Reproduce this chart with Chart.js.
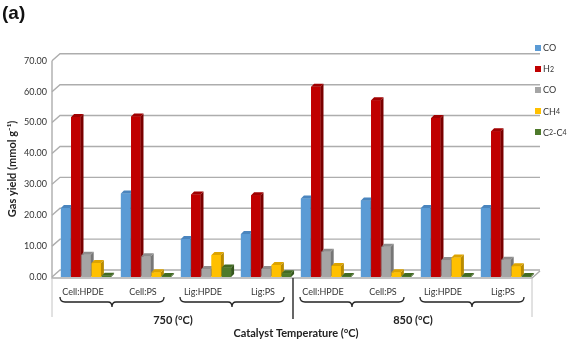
<!DOCTYPE html>
<html>
<head>
<meta charset="utf-8">
<script src="https://cdn.jsdelivr.net/npm/chart.js@4.4.0/dist/chart.umd.min.js"></script>
<style>
  html, body { margin: 0; padding: 0; background: #fff; }
  #wrap { position: relative; width: 567px; height: 341px; }
  #legend { position: absolute; left: 535px; top: 37px; font: 9px Lato, sans-serif; color: #333; }
  #legend .item { height: 21.2px; display: flex; align-items: center; white-space: nowrap; }
  #legend .box { display: inline-block; width: 6px; height: 6px; margin-right: 2px; }
  #legend sub { font-size: 7px; line-height: 0; vertical-align: -3px; }
</style>
</head>
<body>
<div id="wrap">
  <canvas id="gasChart" width="567" height="341"></canvas>
  <div id="legend"></div>
</div>
<script>
// data
const categories = ['Cell:HPDE', 'Cell:PS', 'Lig:HPDE', 'Lig:PS', 'Cell:HPDE', 'Cell:PS', 'Lig:HPDE', 'Lig:PS'];
const groupLabels = ['750 (°C)', '850 (°C)'];
const seriesNames = ['CO', 'H₂', 'CO', 'CH₄', 'C₂-C₄'];
const legendHtml = ['CO', 'H<sub>2</sub>', 'CO', 'CH<sub>4</sub>', 'C<sub>2</sub>-C<sub>4</sub>'];
const coValues   = [22.3, 27.0, 12.3, 13.9, 25.4, 24.8, 22.3, 22.3];
const h2Values   = [51.8, 52.0, 26.7, 26.5, 61.6, 57.2, 51.5, 47.2];
const co2Values  = [7.2, 6.7, 2.6, 2.6, 8.2, 9.8, 5.5, 5.6];
const ch4Values  = [4.5, 1.5, 7.1, 3.9, 3.6, 1.5, 6.3, 3.5];
const c2c4Values = [0.4, 0.3, 3.1, 1.2, 0.3, 0.3, 0.3, 0.3];
const yTicks = [0, 10, 20, 30, 40, 50, 60, 70];

const frontColors = ['#5B9BD5', '#C00000', '#A5A5A5', '#FFC000', '#4E7A2B'];
const sideColors  = ['#3E6E9C', '#7A0000', '#767676', '#B98B00', '#34561C'];
const topColors   = ['#4A85BE', '#A00000', '#8E8E8E', '#DDA400', '#426A24'];
const allValues = [coValues, h2Values, co2Values, ch4Values, c2c4Values];

const FONT = 'Lato, "Liberation Sans", sans-serif';

// fake 3D walls (back grid + floor)
const wallPlugin = {
  id: 'wall',
  beforeDatasetsDraw(chart) {
    const { ctx, chartArea: a, scales: { y } } = chart;
    ctx.save();
    ctx.strokeStyle = '#adadad';
    ctx.lineWidth = 1.4;
    yTicks.forEach(v => {
      const py = y.getPixelForValue(v);
      ctx.beginPath();
      ctx.moveTo(a.left - 4, py);
      ctx.lineTo(a.left + 4, py - 7);
      ctx.lineTo(a.right + 4, py - 7);
      ctx.stroke();
    });
    ctx.beginPath();
    ctx.moveTo(a.left - 4, a.top);
    ctx.lineTo(a.left - 4, a.bottom + 1);
    ctx.lineTo(a.right - 4, a.bottom + 1);
    ctx.lineTo(a.right + 4, a.bottom - 6);
    ctx.stroke();
    ctx.restore();
  }
};

// side + top faces for every bar, drawn in series order
const depthPlugin = {
  id: 'depth',
  afterDatasetsDraw(chart) {
    const ctx = chart.ctx;
    const d = 3;
    const metas = chart.data.datasets.map((ds, i) => chart.getDatasetMeta(i));
    ctx.save();
    metas.forEach((meta, i) => {
      meta.data.forEach(bar => {
        const { x, y, base, width } = bar.getProps(['x', 'y', 'base', 'width'], true);
        const l = x - width / 2, r = x + width / 2;
        ctx.fillStyle = frontColors[i];
        ctx.fillRect(l, y, width, base - y);
        ctx.fillStyle = sideColors[i];
        ctx.beginPath();
        ctx.moveTo(r, y); ctx.lineTo(r + d, y - d); ctx.lineTo(r + d, base - d); ctx.lineTo(r, base);
        ctx.closePath(); ctx.fill();
        ctx.fillStyle = topColors[i];
        ctx.beginPath();
        ctx.moveTo(l, y); ctx.lineTo(l + d, y - d); ctx.lineTo(r + d, y - d); ctx.lineTo(r, y);
        ctx.closePath(); ctx.fill();
      });
    });
    ctx.restore();
  }
};

// braces, group labels and box under the x axis
const groupPlugin = {
  id: 'groups',
  afterDraw(chart) {
    const { ctx, chartArea: a, scales: { x } } = chart;
    const px = i => x.getPixelForValue(i) - 3;
    ctx.save();
    ctx.strokeStyle = '#c4c4c4';
    ctx.lineWidth = 1;
    [a.left - 4, a.right - 4].forEach(bx => {
      ctx.beginPath(); ctx.moveTo(bx, a.bottom + 1); ctx.lineTo(bx, 317); ctx.stroke();
    });
    ctx.strokeStyle = '#333';
    ctx.lineWidth = 1.5;
    const sx = (px(3) + px(4)) / 2;
    ctx.beginPath(); ctx.moveTo(sx, a.bottom + 1); ctx.lineTo(sx, 319); ctx.stroke();

    ctx.strokeStyle = '#222';
    ctx.lineWidth = 1.3;
    const y0 = 297;
    for (let k = 0; k < 4; k++) {
      const cx = (px(2 * k) + px(2 * k + 1)) / 2 - 1;
      const x1 = cx - 52, x2 = cx + 52;
      ctx.beginPath();
      ctx.moveTo(x1, y0);
      ctx.quadraticCurveTo(x1, y0 + 5, x1 + 5, y0 + 5);
      ctx.lineTo(cx - 4, y0 + 5);
      ctx.quadraticCurveTo(cx, y0 + 5, cx, y0 + 10);
      ctx.quadraticCurveTo(cx, y0 + 5, cx + 4, y0 + 5);
      ctx.lineTo(x2 - 5, y0 + 5);
      ctx.quadraticCurveTo(x2, y0 + 5, x2, y0);
      ctx.stroke();
    }
    ctx.fillStyle = '#222';
    ctx.font = 'bold 11px ' + FONT;
    ctx.textAlign = 'center';
    ctx.textBaseline = 'middle';
    groupLabels.forEach((g, k) => {
      const gx = (px(4 * k + 1) + px(4 * k + 2)) / 2;
      ctx.fillText(g, gx, 320);
    });
    ctx.restore();
  }
};

const ctx = document.getElementById('gasChart').getContext('2d');
const gasChart = new Chart(ctx, {
  type: 'bar',
  data: {
    labels: categories,
    datasets: seriesNames.map((name, i) => ({
      label: name,
      data: allValues[i],
      backgroundColor: frontColors[i],
      borderWidth: 0,
      categoryPercentage: 0.85,
      barPercentage: 0.92
    }))
  },
  options: {
    responsive: false,
    animation: false,
    layout: { padding: { top: 0, right: 31, bottom: 0, left: 2 } },
    plugins: {
      legend: { display: false },
      tooltip: { enabled: false },
      title: {
        display: true,
        text: '(a)',
        align: 'start',
        color: '#111',
        font: { family: '"Liberation Sans", Arial, sans-serif', size: 19, weight: 'bold' },
        padding: { top: 2, bottom: 36 }
      }
    },
    scales: {
      x: {
        grid: { display: false },
        border: { display: false },
        ticks: { color: '#333', font: { family: FONT, size: 9 }, padding: 2, labelOffset: -3, maxRotation: 0, autoSkip: false },
        title: {
          display: true,
          text: 'Catalyst Temperature (°C)',
          color: '#222',
          font: { family: FONT, size: 11, weight: 'bold' },
          padding: { top: 0, bottom: 1 }
        },
        afterFit(scale) { scale.height = 64; }
      },
      y: {
        min: 0,
        max: 70,
        grid: { display: false },
        border: { display: false },
        ticks: {
          stepSize: 10,
          color: '#333',
          padding: 1,
          font: { family: FONT, size: 9 },
          callback: v => v.toFixed(2)
        },
        title: {
          display: true,
          text: 'Gas yield (mmol g⁻¹)',
          color: '#222',
          font: { family: FONT, size: 11, weight: 'bold' },
          padding: { top: 4, bottom: 0 }
        },
        afterFit(scale) { scale.width = 54; }
      }
    }
  },
  plugins: [wallPlugin, depthPlugin, groupPlugin]
});

// html legend with real subscripts
document.getElementById('legend').innerHTML = gasChart.data.datasets.map((ds, i) =>
  '<div class="item"><span class="box" style="background:' + ds.backgroundColor + '"></span>' + legendHtml[i] + '</div>'
).join('');
</script>
</body>
</html>
